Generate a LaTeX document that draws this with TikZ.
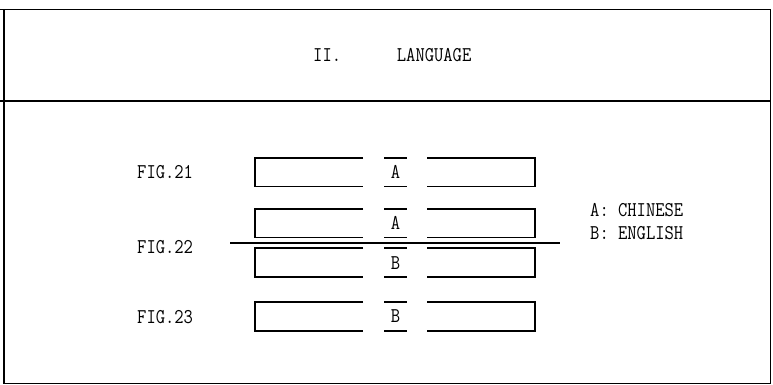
\documentclass[tikz,border=0pt]{standalone}
\usepackage{fontspec}
\setmonofont[FakeStretch=0.86]{Latin Modern Mono}
\begin{document}
\begin{tikzpicture}[x=1pt,y=-1pt,
  frame/.style={line width=1.8pt},
  bar/.style={line width=1.7pt},
  txt/.style={font=\ttfamily\fontsize{21}{22}\selectfont, inner sep=0pt},
]
\useasboundingbox (0,0) rectangle (773,385);
% frame
\coordinate (tl0) at (0,9.5);
\coordinate (tr) at (770.5,9.5);
\coordinate (tl) at (4,9.5);
\coordinate (bl) at (4,383.5);
\coordinate (br) at (770.5,383.5);
\coordinate (dl) at (0,100.7);
\coordinate (dr) at (770.5,100.7);
\draw[frame] (tl0) -- (tr) -- (br) -- (bl) -- (tl);
\draw[frame] (dl) -- (dr);
% title
\node[txt, anchor=west] (title) at (313,55) {II.~~~~~~LANGUAGE};
% bars
\foreach \n/\t/\b/\lab in {r1/157.7/186.5/A, r2/209/237.5/A, r3/248.3/277.3/B, r4/302.3/330.7/B}{
  \draw[bar] (363,\t) -- (255,\t) -- (255,\b) -- (363,\b);
  \draw[bar] (427,\t) -- (535,\t) -- (535,\b) -- (427,\b);
  \draw[bar] (384,\t) -- (407,\t);
  \draw[bar] (384,\b) -- (407,\b);
  \node[txt] (\n) at (395.5,{(\t+\b)/2}) {\lab};
}
% separator line for FIG.22
\coordinate (sl) at (230,243.3);
\coordinate (sr) at (560,243.3);
\draw[bar] (sl) -- (sr);
% fig labels
\node[txt, anchor=west] (f21) at (137,172.5) {FIG.21};
\node[txt, anchor=west] (f22) at (137,247) {FIG.22};
\node[txt, anchor=west] (f23) at (137,317) {FIG.23};
% legend
\node[txt, anchor=west] (la) at (590,210) {A:~CHINESE};
\node[txt, anchor=west] (lb) at (590,233) {B:~ENGLISH};
\end{tikzpicture}
\end{document}
